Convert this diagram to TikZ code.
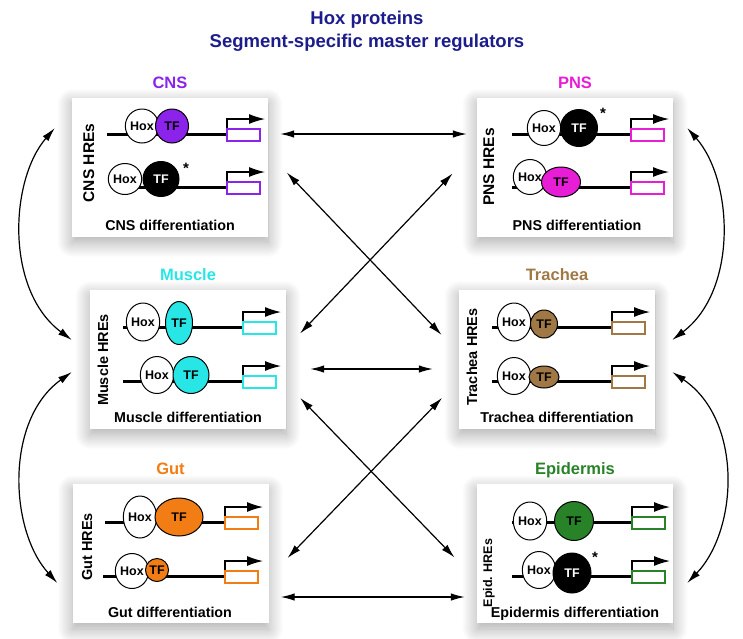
\documentclass[tikz,border=0pt]{standalone}
\usepackage{fontspec}
\setmainfont{Liberation Sans}
\usepackage{tikz}
\usetikzlibrary{arrows.meta,positioning,shapes.geometric,calc,shadows.blur}

\definecolor{titleblue}{RGB}{28,28,140}
\definecolor{cnscol}{RGB}{140,35,235}
\definecolor{pnscol}{RGB}{232,30,215}
\definecolor{musclecol}{RGB}{40,230,230}
\definecolor{tracheacol}{RGB}{160,120,70}
\definecolor{gutcol}{RGB}{242,125,20}
\definecolor{epicol}{RGB}{40,130,40}

% one regulatory element: DNA line, promoter arrow, reporter box
\newcommand{\generow}[4]{%
  \draw[dna] (#1,#2) -- (#3,#2);
  \draw[prom] (#3,#2-5) -- (#3,#2-15) -- (#3+38,#2-15);
  \draw[reporter=#4] (#3,#2-5) rectangle (#3+33,#2+7);
}

\begin{document}
\begin{tikzpicture}[x=1pt, y=-1pt,
	box/.style={rectangle, fill=white, minimum width=196pt, minimum height=139pt, inner sep=0pt,
		blur shadow={shadow xshift=0pt, shadow yshift=-6pt, shadow blur radius=15pt, shadow blur steps=20, shadow opacity=35}},
	headline/.style={align=center, text=titleblue, font=\fontsize{18.5}{23}\selectfont\bfseries},
	tissue/.style={anchor=base, font=\fontsize{16.5}{18}\selectfont\bfseries},
	diff/.style={anchor=base, font=\fontsize{14.3}{16}\selectfont\bfseries},
	hres/.style={anchor=base, rotate=90, font=\fontsize{#1}{16}\selectfont\bfseries},
	hres/.default=14.5,
	hox/.style={ellipse, draw, fill=white, line width=1pt, inner sep=0pt, font=\fontsize{12.5}{13}\selectfont\bfseries},
	tf/.style={ellipse, draw, line width=1pt, inner sep=0pt, font=\fontsize{12.5}{13}\selectfont\bfseries},
	sz/.style 2 args={minimum width=#1pt, minimum height=#2pt},
	asterisk/.style={inner sep=0pt, font=\fontsize{15}{16}\selectfont\bfseries},
	dna/.style={line width=3pt},
	prom/.style={-{Latex[length=16pt,width=10pt]}, line width=1.3pt},
	reporter/.style={draw=#1, line width=1.6pt, fill=white},
	link/.style={{Latex[length=14pt,width=7.5pt]}-{Latex[length=14pt,width=7.5pt]}, line width=1.2pt}
]
\useasboundingbox (0,0) rectangle (743,638);

\node[headline] (title) at (367,31) {Hox proteins\\Segment-specific master regulators};

\node[box] (cns) at (170,167) {};
\node[box] (pns) at (575,167) {};
\node[box] (muscle) at (188,359) {};
\node[box] (trachea) at (557,359) {};
\node[box] (gut) at (170.5,553.5) {};
\node[box] (epid) at (575,553.5) {};

\node[tissue, text=cnscol] (cnsT) at ([yshift=9pt]cns.north) {CNS};
\node[tissue, text=pnscol] (pnsT) at ([yshift=9pt]pns.north) {PNS};
\node[tissue, text=musclecol] (muscleT) at ([yshift=9pt]muscle.north) {Muscle};
\node[tissue, text=tracheacol] (tracheaT) at ([yshift=9pt]trachea.north) {Trachea};
\node[tissue, text=gutcol] (gutT) at ([yshift=9pt]gut.north) {Gut};
\node[tissue, text=epicol] (epidT) at ([yshift=9pt]epid.north) {Epidermis};

% straight links between boxes
\draw[link, shorten <=12pt, shorten >=10pt] ([yshift=33pt]cns.east) -- ([yshift=33pt]pns.west);
\draw[link, shorten <=27pt, shorten >=25pt] ([yshift=14pt]cns.east) -- ([yshift=6pt]trachea.west);
\draw[link, shorten <=35pt, shorten >=20pt] ([yshift=19pt]pns.west) -- ([yshift=11pt]muscle.east);
\draw[link, shorten <=24pt, shorten >=26pt] ([yshift=-10pt]muscle.east) -- ([yshift=-10pt]trachea.west);
\draw[link, shorten <=20pt, shorten >=32pt] ([yshift=-24.5pt]muscle.east) -- ([yshift=-27pt]epid.west);
\draw[link, shorten <=24pt, shorten >=27pt] ([yshift=-21.5pt]trachea.west) -- ([yshift=-24pt]gut.east);
\draw[link, shorten <=12pt, shorten >=12pt] ([yshift=-43.5pt]gut.east) -- ([yshift=-43.5pt]epid.west);
% curved links on the sides
\draw[link] ([xshift=-17pt,yshift=39pt]cns.west) .. controls +(-45,52) and +(-67,-50) .. ([xshift=-18pt,yshift=19pt]muscle.west);
\draw[link] ([xshift=-18pt,yshift=-13pt]muscle.west) .. controls +(-67,48) and +(-48,-53) .. ([xshift=-15pt,yshift=-29.5pt]gut.west);
\draw[link] ([xshift=14pt,yshift=39pt]pns.east) .. controls +(46,52) and +(66,-50) .. ([xshift=17pt,yshift=19pt]trachea.east);
\draw[link] ([xshift=17pt,yshift=-13pt]trachea.east) .. controls +(71,48) and +(51,-53) .. ([xshift=14pt,yshift=-29.5pt]epid.east);

% CNS
\generow{107}{134}{227}{cnscol}
\generow{113}{187}{227}{cnscol}
\node[hox, sz={27}{34}] (cnsHox1) at (142,126) {Hox};
\node[tf, sz={33}{34}, fill=cnscol] (cnsTF1) at (172,126) {TF};
\node[hox, sz={26}{31}] (cnsHox2) at (125,179) {Hox};
\node[tf, sz={36}{35}, fill=black, text=white] (cnsTF2) at (161,179) {TF};
\node[asterisk] (cnsAst) at (186,168) {*};
\node[hres=15.5] (cnsH) at (94,163) {CNS HREs};
\node[diff] (cnsD) at (170,230) {CNS differentiation};

% PNS
\generow{512}{134}{631}{pnscol}
\generow{512}{187}{631}{pnscol}
\node[hox, sz={25}{35}] (pnsHox1) at (544,128) {Hox};
\node[tf, sz={37}{37}, fill=black, text=white] (pnsTF1) at (579,128) {TF};
\node[asterisk] (pnsAst) at (603,113) {*};
\node[hox, sz={27}{35}] (pnsHox2) at (530,177) {Hox};
\node[tf, sz={39}{30}, fill=pnscol] (pnsTF2) at (561,182) {TF};
\node[hres=15.5] (pnsH) at (494,167) {PNS HREs};
\node[diff] (pnsD) at (577,230) {PNS differentiation};

% Muscle
\generow{123}{327}{243}{musclecol}
\generow{123}{381}{243}{musclecol}
\node[hox, sz={28}{38}] (muscleHox1) at (143,322) {Hox};
\node[tf, sz={27}{43}, fill=musclecol] (muscleTF1) at (179,323) {TF};
\node[hox, sz={28}{37}] (muscleHox2) at (157,375) {Hox};
\node[tf, sz={36}{37}, fill=musclecol] (muscleTF2) at (191,375) {TF};
\node[hres] (muscleH) at (108,360) {Muscle HREs};
\node[diff] (muscleD) at (188,422) {Muscle differentiation};

% Trachea
\generow{492}{327}{612}{tracheacol}
\generow{492}{381}{612}{tracheacol}
\node[hox, sz={28}{38}] (tracheaHox1) at (514,322) {Hox};
\node[tf, sz={27}{28}, fill=tracheacol] (tracheaTF1) at (544,324) {TF};
\node[hox, sz={30}{37}] (tracheaHox2) at (514,376) {Hox};
\node[tf, sz={30}{22}, fill=tracheacol] (tracheaTF2) at (544,377) {TF};
\node[hres] (tracheaH) at (477,357) {Trachea HREs};
\node[diff] (tracheaD) at (557,422) {Trachea differentiation};

% Gut
\generow{105}{522}{225}{gutcol}
\generow{103}{576}{225}{gutcol}
\node[hox, sz={30}{42}] (gutHox1) at (140,517) {Hox};
\node[tf, sz={48}{38}, fill=gutcol] (gutTF1) at (179,517) {TF};
\node[hox, sz={28}{35}] (gutHox2) at (132,571) {Hox};
\node[tf, sz={23}{23}, fill=gutcol] (gutTF2) at (157,570) {TF};
\node[hres] (gutH) at (92,547) {Gut HREs};
\node[diff] (gutD) at (170,617) {Gut differentiation};

% Epidermis
\generow{512}{522}{632}{epicol}
\generow{512}{576}{632}{epicol}
\node[hox, sz={27}{38}] (epidHox1) at (530,521) {Hox};
\node[tf, sz={39}{39}, fill=epicol] (epidTF1) at (574,521) {TF};
\node[hox, sz={28}{37}] (epidHox2) at (539,570) {Hox};
\node[tf, sz={38}{40}, fill=black, text=white] (epidTF2) at (572,573) {TF};
\node[asterisk] (epidAst) at (595,557) {*};
\node[hres=12.5] (epidH) at (492,573) {Epid. HREs};
\node[diff] (epidD) at (575,617) {Epidermis differentiation};
\end{tikzpicture}
\end{document}
